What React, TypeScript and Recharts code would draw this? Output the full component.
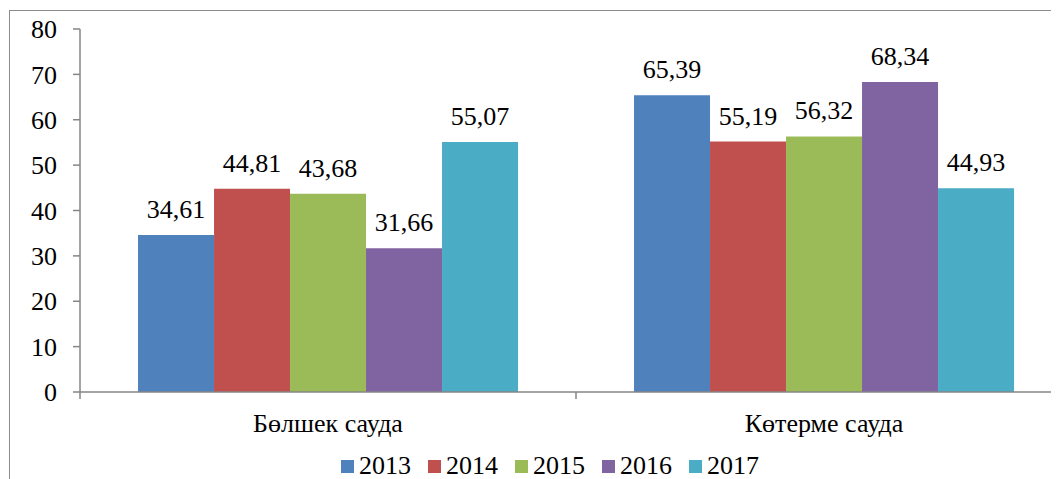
import { BarChart, Bar, XAxis, YAxis, Legend, LabelList } from "recharts";

const categories = ["Бөлшек сауда", "Көтерме сауда"];
const years = ["2013", "2014", "2015", "2016", "2017"];
const retail = [34.61, 44.81, 43.68, 31.66, 55.07];
const wholesale = [65.39, 55.19, 56.32, 68.34, 44.93];
const colors = ["#4F81BD", "#C0504D", "#9BBB59", "#8064A2", "#4BACC6"];
const yTicks = [0, 10, 20, 30, 40, 50, 60, 70, 80];

const seriesByCategory = [retail, wholesale];
const data = categories.map((name, i) => {
  const row: Record<string, string | number> = { name };
  years.forEach((y, j) => {
    row[y] = seriesByCategory[i][j];
  });
  return row;
});

const FONT = "'Liberation Serif', 'Times New Roman', serif";
const AXIS = "#868686";
const TICK_SIZE = 7;
const TICK_MARGIN = 15;

const fmt = (v: any) => Number(v).toFixed(2).replace(".", ",");

function CategoryTick(props: any) {
  const { x, y, payload, width, visibleTicksCount } = props;
  const half =
    payload.offset != null && payload.offset > 0
      ? payload.offset
      : width / (visibleTicksCount || 1) / 2;
  const lineTop = y - TICK_SIZE - TICK_MARGIN;
  return (
    <g>
      <line
        x1={x - half}
        x2={x - half}
        y1={lineTop}
        y2={lineTop + TICK_SIZE}
        stroke={AXIS}
        strokeWidth={1.5}
      />
      <text
        x={x}
        y={y}
        dy="0.71em"
        textAnchor="middle"
        fontSize={26}
        fontFamily={FONT}
        fill="#000"
      >
        {payload.value}
      </text>
    </g>
  );
}

function LegendContent(props: any) {
  const { payload } = props;
  return (
    <div
      style={{
        display: "flex",
        justifyContent: "center",
        alignItems: "center",
        gap: 17,
        fontFamily: FONT,
        fontSize: 26,
        lineHeight: "26px",
        color: "#000",
      }}
    >
      {(payload || []).map((p: any) => (
        <div key={p.value} style={{ display: "flex", alignItems: "center", gap: 5 }}>
          <span
            style={{ display: "inline-block", width: 13, height: 13, background: p.color }}
          />
          <span>{p.value}</span>
        </div>
      ))}
    </div>
  );
}

export default function App() {
  return (
    <div style={{ position: "relative", width: 1051, height: 471, overflow: "hidden" }}>
      <div
        style={{
          position: "absolute",
          left: 1,
          top: 2,
          width: 1100,
          height: 520,
          border: "1px solid #8c8c8c",
        }}
      />
      <div style={{ position: "absolute", left: 0, top: 0 }}>
        <BarChart
          width={1100}
          height={520}
          data={data}
          margin={{ top: 21, right: 36, left: 12, bottom: 76 }}
          barCategoryGap="11.7%"
          barGap={0}
        >
          <XAxis
            dataKey="name"
            stroke={AXIS}
            strokeWidth={1.5}
            tickLine={false}
            tickSize={TICK_SIZE}
            tickMargin={TICK_MARGIN}
            height={60}
            tick={<CategoryTick />}
            interval={0}
          />
          <YAxis
            width={60}
            domain={[0, 80]}
            ticks={yTicks}
            interval={0}
            stroke={AXIS}
            strokeWidth={1.5}
            tickSize={TICK_SIZE}
            tickMargin={16}
            tick={{ fontSize: 26, fontFamily: FONT, fill: "#000" }}
          />
          <Legend
            verticalAlign="middle"
            align="center"
            layout="horizontal"
            content={<LegendContent />}
            wrapperStyle={{ top: 445, left: 0, width: 1084, height: 26 }}
          />
          {years.map((y, j) => (
            <Bar key={y} dataKey={y} fill={colors[j]} isAnimationActive={false}>
              <LabelList
                dataKey={y}
                position="top"
                offset={17}
                formatter={fmt}
                style={{ fontSize: 26, fontFamily: FONT, fill: "#000" }}
              />
            </Bar>
          ))}
        </BarChart>
      </div>
    </div>
  );
}
